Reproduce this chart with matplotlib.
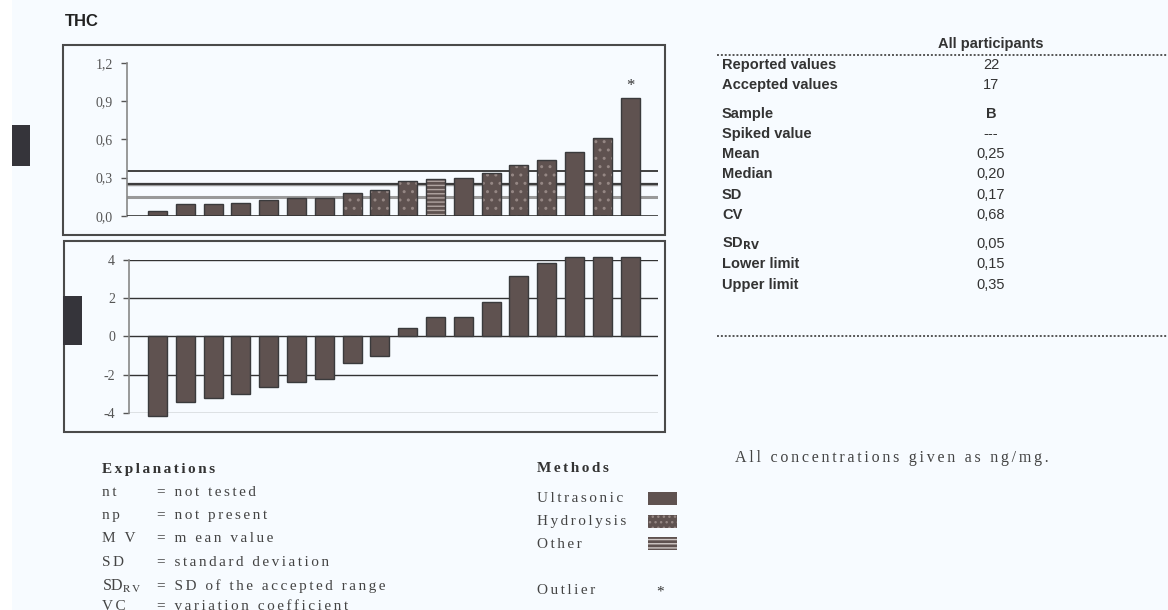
import numpy as np
import matplotlib
matplotlib.use("Agg")
import matplotlib.pyplot as plt
from matplotlib.patches import Rectangle

# Data
thc_values = [0.04, 0.09, 0.09, 0.10, 0.12, 0.14, 0.14, 0.18, 0.20, 0.27,
              0.29, 0.30, 0.34, 0.40, 0.44, 0.50, 0.61, 0.93]
thc_methods = ["U", "U", "U", "U", "U", "U", "U", "H", "H", "H",
               "O", "U", "H", "H", "H", "U", "H", "U"]
outlier_idx = [17]
z_scores = [-4.17, -3.44, -3.21, -3.04, -2.64, -2.37, -2.22, -1.40, -1.01, 0.42,
            0.99, 1.0, 1.80, 3.18, 3.82, 4.15, 4.15, 4.15]
mean_val, lower_lim, upper_lim = 0.25, 0.15, 0.35
top_ticks = [0.0, 0.3, 0.6, 0.9, 1.2]
top_tick_labels = ["0,0", "0,3", "0,6", "0,9", "1,2"]
z_ticks = [-4, -2, 0, 2, 4]

table_labels = ["Reported values", "Accepted values", "Sample", "Spiked value",
                "Mean", "Median", "SD", "CV", r"SD$_{\mathbf{RV}}$",
                "Lower limit", "Upper limit"]
table_values = ["22", "17", "B", "---", "0,25", "0,20", "0,17", "0,68",
                "0,05", "0,15", "0,35"]
explain_keys = ["nt", "np", "M V", "SD", None, "VC"]
explain_text = ["= not tested", "= not present", "= m ean value",
                "= standard deviation", "= SD of the accepted range",
                "= variation coefficient"]

W, H = 1168, 610
BG = "#f7fbff"
BAR = "#5f5250"
EDGE = "#3a3a3c"
SERIF = ["Liberation Serif", "DejaVu Serif"]
SANS = "Liberation Sans"

fig = plt.figure(figsize=(W / 100, H / 100), dpi=100, facecolor=BG)
fig.patches.append(Rectangle((0, 0), 12 / W, 1, transform=fig.transFigure,
                             facecolor="white", edgecolor="none"))


def fx(px):
    return px / W


def fy(py):
    return 1 - py / H


def ax_rect(x0, y0, x1, y1):
    return [fx(x0), fy(y1), fx(x1) - fx(x0), fy(y0) - fy(y1)]


def spaced(s):
    # wide letter spacing like the original document
    return "\u200a\u200a".join(s)


# panel frames and dark markers
for (x0, y0, x1, y1) in [(62.5, 44.5, 665, 235), (63.5, 241, 665, 432)]:
    fig.patches.append(Rectangle((fx(x0), fy(y1)), fx(x1) - fx(x0), fy(y0) - fy(y1),
                                 transform=fig.transFigure, facecolor="none",
                                 edgecolor="#4a4a4a", linewidth=1.5))
for (x0, y0, x1, y1) in [(12, 125, 30, 166), (63, 296, 82, 345)]:
    fig.patches.append(Rectangle((fx(x0), fy(y1)), fx(x1) - fx(x0), fy(y0) - fy(y1),
                                 transform=fig.transFigure, facecolor="#35343a",
                                 edgecolor="none"))

fig.text(fx(65), fy(21), "THC", fontsize=12, fontweight="bold",
         family=SANS, va="center", color="#222222")

x = np.arange(len(thc_values))
bw = 0.68
x0c, dx = 157.5, 27.8  # first bar centre and spacing in pixels


def xlims(left_px, right_px):
    return ((left_px - x0c) / dx, (right_px - x0c) / dx)


# top panel: reported values
ax1 = fig.add_axes(ax_rect(127, 63.3, 657.6, 215.7))
ax1.set_facecolor("none")
for i, (v, m) in enumerate(zip(thc_values, thc_methods)):
    if m == "U":
        ax1.bar(i, v, bw, color=BAR, edgecolor=EDGE, linewidth=1, zorder=3)
    else:
        hatch = ".." if m == "H" else "----"
        hc = "#958784" if m == "H" else "#b0a4a1"
        ax1.bar(i, v, bw, color=BAR, edgecolor=hc, hatch=hatch, linewidth=0, zorder=3)
        ax1.bar(i, v, bw, color="none", edgecolor=EDGE, linewidth=1, zorder=4)
for i in outlier_idx:
    ax1.text(i, thc_values[i] + 0.03, "*", ha="center", va="bottom",
             fontsize=12, family=SERIF, color="#333333")
ax1.axhline(upper_lim, color="#333333", lw=1.3, zorder=2)
ax1.axhline(mean_val, color="#999999", lw=2.5, zorder=2)
ax1.axhline(mean_val, color="#333333", lw=1.3, zorder=2)
ax1.axhline(lower_lim, color="#999999", lw=2.2, zorder=2)
ax1.axhline(0, color="#333333", lw=1.2, zorder=5)
ax1.set_ylim(0, 1.2)
ax1.set_xlim(*xlims(127, 657.6))
ax1.set_yticks(top_ticks)
ax1.set_yticklabels(top_tick_labels)

# bottom panel: z-scores
ax2 = fig.add_axes(ax_rect(129, 260, 657.6, 412.7))
ax2.set_facecolor("none")
ax2.bar(x, z_scores, bw, color=BAR, edgecolor=EDGE, linewidth=1, zorder=3, clip_on=False)
for t in z_ticks:
    ax2.axhline(t, color="#333333" if t != -4 else "#777777", lw=1.0, zorder=2)
ax2.set_ylim(-4, 4)
ax2.set_xlim(*xlims(129, 657.6))
ax2.set_yticks(z_ticks)
ax2.set_yticklabels([str(t) for t in z_ticks])

for ax in (ax1, ax2):
    for s in ("top", "right", "bottom"):
        ax.spines[s].set_visible(False)
    ax.spines["left"].set_color("#888888")
    ax.spines["left"].set_linewidth(1.2)
    ax.set_xticks([])
    ax.tick_params(axis="y", length=4, width=1, color="#555555",
                   labelcolor="#555555", labelsize=10, pad=6)
    for lab in ax.get_yticklabels():
        lab.set_family(SERIF)

# right table
fig.lines.append(plt.Line2D([fx(717), fx(1168)], [fy(55), fy(55)], transform=fig.transFigure,
                            color="#555555", lw=1.4, ls=(0, (1, 1))))
fig.lines.append(plt.Line2D([fx(717), fx(1168)], [fy(336), fy(336)], transform=fig.transFigure,
                            color="#555555", lw=1.4, ls=(0, (1, 1))))
fig.text(fx(991), fy(44), "All participants", fontsize=10.5, fontweight="bold",
         family=SANS, ha="center", va="center", color="#333333")
row_y = [65, 85, 114, 134, 154, 174, 195, 215, 244, 264, 285]
for lab, val, yy in zip(table_labels, table_values, row_y):
    fig.text(fx(722), fy(yy), lab, fontsize=10.5, fontweight="bold", family=SANS,
             va="center", color="#333333")
    fig.text(fx(991), fy(yy), val, fontsize=10.5, family=SANS, ha="center", va="center",
             color="#333333", fontweight="bold" if val == "B" else "normal")

fig.text(fx(735), fy(458), spaced("All concentrations given as ng/mg."), fontsize=11.5,
         family=SERIF, va="center", color="#444444")

# explanations
fig.text(fx(102), fy(469), spaced("Explanations"), fontsize=11, fontweight="bold",
         family=SERIF, va="center", color="#333333")
exp_y = [492, 516, 539, 562, 586, 606]
for k, t, yy in zip(explain_keys, explain_text, exp_y):
    if k is None:
        fig.text(fx(102), fy(yy), r"SD$_{\rm R\,V}$", fontsize=11.5, family=SERIF,
                 va="center", color="#444444", math_fontfamily="stix")
    else:
        fig.text(fx(102), fy(yy), spaced(k), fontsize=11, family=SERIF, va="center",
                 color="#444444")
    fig.text(fx(157), fy(yy), spaced(t), fontsize=11, family=SERIF, va="center",
             color="#444444")

# methods legend
fig.text(fx(537), fy(468), spaced("Methods"), fontsize=11, fontweight="bold",
         family=SERIF, va="center", color="#333333")
meth_names = ["Ultrasonic", "Hydrolysis", "Other"]
meth_hatch = [None, "...", "----"]
meth_hc = [BAR, "#958784", "#d0c8c6"]
meth_y = [499, 522, 544]
for name, h, hc, yy in zip(meth_names, meth_hatch, meth_hc, meth_y):
    fig.text(fx(537), fy(yy), spaced(name), fontsize=11, family=SERIF, va="center",
             color="#444444")
    fig.patches.append(Rectangle((fx(648), fy(yy + 6)), fx(29), 13 / H,
                                 transform=fig.transFigure, facecolor=BAR,
                                 edgecolor=hc, hatch=h, linewidth=0))
fig.text(fx(537), fy(590), spaced("Outlier"), fontsize=11, family=SERIF, va="center",
         color="#444444")
fig.text(fx(660), fy(592), "*", fontsize=11, family=SERIF, ha="center", va="center",
         color="#333333")

fig.savefig("out.png", dpi=100, facecolor=BG)
